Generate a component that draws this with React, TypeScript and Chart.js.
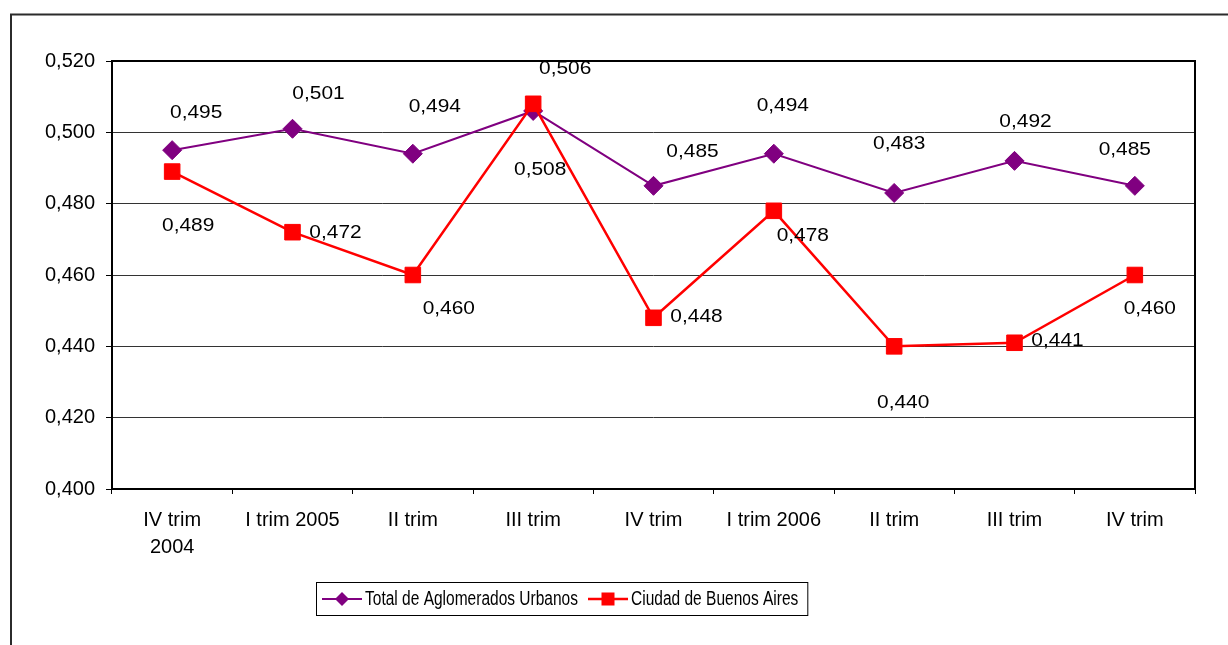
import React, { useEffect, useRef } from 'react';
import { Chart, registerables } from 'chart.js';

Chart.register(...registerables);

// ---------- data ----------
const categories: (string | string[])[] = [
  ['IV trim', '2004'],
  'I trim 2005',
  'II trim',
  'III trim',
  'IV trim',
  'I trim 2006',
  'II trim',
  'III trim',
  'IV trim',
];
const totalValues = [0.495, 0.501, 0.494, 0.506, 0.485, 0.494, 0.483, 0.492, 0.485];
const ciudadValues = [0.489, 0.472, 0.46, 0.508, 0.448, 0.478, 0.44, 0.441, 0.46];
const yTickValues = [0.4, 0.42, 0.44, 0.46, 0.48, 0.5, 0.52];
const seriesNames = ['Total de Aglomerados Urbanos', 'Ciudad de Buenos Aires'];

// label placement (offset of each value label from its point, px)
const totalLabelOffsets = [[24, -37], [26, -35], [22, -47], [32, -42], [39, -34], [9, -48], [5, -49], [11, -39], [-10, -36]];
const ciudadLabelOffsets = [[16, 54], [43, 1], [36, 34], [7, 66], [43, -1], [29, 25], [9, 56], [43, -2], [15, 34]];

const PURPLE = '#800080';
const RED = '#FF0000';
const FONT = '"Liberation Sans", Arial, Helvetica, sans-serif';

const fmt = (v: number) => v.toFixed(3).replace('.', ',');

const outerFrame = {
  id: 'outerFrame',
  beforeDraw(chart: any) {
    const ctx = chart.ctx;
    ctx.save();
    ctx.fillStyle = '#fff';
    ctx.fillRect(0, 0, chart.width, chart.height);
    ctx.strokeStyle = '#2b2b2b';
    ctx.lineWidth = 2;
    ctx.strokeRect(11, 14.5, chart.width + 50, chart.height + 50);
    ctx.restore();
  },
};

const plotBorder = {
  id: 'plotBorder',
  beforeDatasetsDraw(chart: any) {
    const { ctx, chartArea } = chart;
    ctx.save();
    ctx.strokeStyle = '#000';
    ctx.lineWidth = 2;
    ctx.strokeRect(chartArea.left, chartArea.top, chartArea.right - chartArea.left, chartArea.bottom - chartArea.top);
    ctx.restore();
  },
};

const valueLabels = {
  id: 'valueLabels',
  afterDatasetsDraw(chart: any) {
    const ctx = chart.ctx;
    const offsetsList = [totalLabelOffsets, ciudadLabelOffsets];
    ctx.save();
    ctx.font = `19px ${FONT}`;
    ctx.fillStyle = '#000';
    ctx.textAlign = 'center';
    ctx.textBaseline = 'middle';
    chart.data.datasets.forEach((ds: any, i: number) => {
      const meta = chart.getDatasetMeta(i);
      meta.data.forEach((el: any, j: number) => {
        const off = offsetsList[i][j];
        ctx.save();
        ctx.translate(el.x + off[0], el.y + off[1]);
        ctx.scale(1.1, 1);
        ctx.fillText(fmt(ds.data[j]), 0, 0);
        ctx.restore();
      });
    });
    ctx.restore();
  },
};

function drawDiamond(ctx: CanvasRenderingContext2D, x: number, y: number, r: number, color: string) {
  ctx.beginPath();
  ctx.moveTo(x - r, y);
  ctx.lineTo(x, y - r);
  ctx.lineTo(x + r, y);
  ctx.lineTo(x, y + r);
  ctx.closePath();
  ctx.fillStyle = color;
  ctx.fill();
}

const customLegend = {
  id: 'customLegend',
  afterDraw(chart: any) {
    const ctx = chart.ctx;
    ctx.save();
    ctx.font = `20px ${FONT}`;
    const raw1 = ctx.measureText(seriesNames[0]).width;
    const sx = 213 / raw1;
    const w1 = raw1 * sx;
    const w2 = ctx.measureText(seriesNames[1]).width * sx;
    const boxLeft = 316;
    const boxTop = 582;
    const boxH = 33;
    const padL = 6, padR = 9, lineLen = 40, gapText = 3, gapItem = 10;
    const boxW = padL + lineLen + gapText + w1 + gapItem + lineLen + gapText + w2 + padR;
    ctx.strokeStyle = '#000';
    ctx.lineWidth = 1;
    ctx.strokeRect(boxLeft + 0.5, boxTop + 0.5, boxW, boxH);
    const cy = boxTop + boxH / 2 + 0.5;
    const widths = [w1, w2];
    const colors = [PURPLE, RED];
    let x = boxLeft + padL;
    for (let i = 0; i < 2; i++) {
      ctx.strokeStyle = colors[i];
      ctx.lineWidth = i === 0 ? 2 : 2.5;
      ctx.beginPath();
      ctx.moveTo(x, cy);
      ctx.lineTo(x + lineLen, cy);
      ctx.stroke();
      const mx = x + lineLen / 2;
      if (i === 0) {
        drawDiamond(ctx, mx, cy, 7, PURPLE);
      } else {
        ctx.fillStyle = RED;
        ctx.fillRect(mx - 6.5, cy - 6.5, 13, 13);
      }
      x += lineLen + gapText;
      ctx.save();
      ctx.fillStyle = '#000';
      ctx.textAlign = 'left';
      ctx.textBaseline = 'middle';
      ctx.translate(x, cy);
      ctx.scale(sx, 1);
      ctx.fillText(seriesNames[i], 0, 0);
      ctx.restore();
      x += widths[i] + gapItem;
    }
    ctx.restore();
  },
};

export default function App() {
  const canvasRef = useRef<HTMLCanvasElement | null>(null);

  useEffect(() => {
    if (!canvasRef.current) return;
    const chart = new Chart(canvasRef.current, {
      type: 'line',
      data: {
        labels: categories,
        datasets: [
          {
            label: seriesNames[0],
            data: totalValues,
            borderColor: PURPLE,
            backgroundColor: PURPLE,
            borderWidth: 2,
            pointStyle: 'rectRot',
            pointRadius: 9.5,
            pointBorderWidth: 1,
            pointBorderColor: PURPLE,
            pointBackgroundColor: PURPLE,
            tension: 0,
            fill: false,
            order: 1,
          },
          {
            label: seriesNames[1],
            data: ciudadValues,
            borderColor: RED,
            backgroundColor: RED,
            borderWidth: 2.5,
            pointStyle: 'rect',
            pointRadius: 11,
            pointBorderWidth: 1,
            pointBorderColor: RED,
            pointBackgroundColor: RED,
            tension: 0,
            fill: false,
            order: 0,
          },
        ],
      },
      options: {
        responsive: false,
        animation: false,
        devicePixelRatio: 1,
        layout: { padding: { left: 0, top: 61, right: 33, bottom: 0 } },
        plugins: {
          legend: { display: false },
          tooltip: { enabled: false },
          title: { display: false },
        },
        scales: {
          x: {
            type: 'category',
            offset: true,
            grid: {
              offset: true,
              drawOnChartArea: false,
              drawTicks: true,
              tickLength: 5,
              tickColor: '#000',
              color: '#000',
              lineWidth: 1,
            },
            border: { display: false },
            ticks: {
              autoSkip: false,
              maxRotation: 0,
              minRotation: 0,
              padding: 13,
              color: '#000',
              font: { family: FONT, size: 20, lineHeight: 1.35 },
            },
            afterFit(scale: any) {
              scale.height = 156;
            },
          },
          y: {
            type: 'linear',
            min: 0.4,
            max: 0.52,
            grid: {
              color: '#333',
              lineWidth: 1,
              drawTicks: true,
              tickLength: 6,
              tickColor: '#000',
            },
            border: { display: false },
            ticks: {
              padding: 11,
              color: '#000',
              font: { family: FONT, size: 20 },
              callback: (v: any) => fmt(Number(v)),
            },
            afterBuildTicks(scale: any) {
              scale.ticks = yTickValues.map((v) => ({ value: v }));
            },
            afterFit(scale: any) {
              scale.width = 112;
            },
          },
        },
      },
      plugins: [outerFrame, plotBorder, valueLabels, customLegend],
    } as any);
    return () => chart.destroy();
  }, []);

  return (
    <div style={{ position: 'fixed', left: 0, top: 0, width: 1228, height: 645, background: '#fff' }}>
      <canvas ref={canvasRef} width={1228} height={645} style={{ display: 'block', width: 1228, height: 645 }} />
    </div>
  );
}
